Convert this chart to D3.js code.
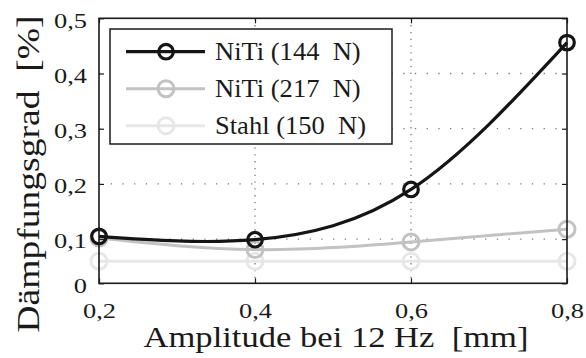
<!DOCTYPE html>
<html>
<head>
<meta charset="utf-8">
<script src="https://cdn.jsdelivr.net/npm/d3@7"></script>
<style>
  html, body { margin: 0; padding: 0; background: #fff; }
  svg { display: block; }
</style>
</head>
<body>
<svg id="chart" width="586" height="358"></svg>
<script>
// Damping ratio vs. excitation amplitude at 12 Hz
const amplitudes = [0.2, 0.4, 0.6, 0.8];
const niti144 = [0.105, 0.099, 0.190, 0.456];
const niti217 = [0.102, 0.081, 0.095, 0.118];
const stahl150 = [0.060, 0.060, 0.060, 0.060];

const seriesNames = ["NiTi (144  N)", "NiTi (217  N)", "Stahl (150  N)"];
const seriesColors = ["#151515", "#c2c2c2", "#e7e7e7"];

const xTicks = [0.2, 0.4, 0.6, 0.8];
const xTickLabels = ["0,2", "0,4", "0,6", "0,8"];
const yTicks = [0.02, 0.1, 0.2, 0.3, 0.4, 0.5];
const yTickLabels = ["0", "0,1", "0,2", "0,3", "0,4", "0,5"];
const xGrid = [0.4, 0.6];
const yGrid = [0.1, 0.2, 0.3, 0.4];

const xTitle = "Amplitude bei 12 Hz  [mm]";
const yTitle = "Dämpfungsgrad  [%]";

const series = [
  { name: seriesNames[0], values: niti144, color: seriesColors[0], r: 7.3, w: 3.2 },
  { name: seriesNames[1], values: niti217, color: seriesColors[1], r: 8, w: 3 },
  { name: seriesNames[2], values: stahl150, color: seriesColors[2], r: 8, w: 3 }
];

const FONT = "'Liberation Serif', 'Times New Roman', serif";
const INK = "#1a1a1a";

const svg = d3.select("#chart");
const pLeft = 99, pRight = 567, pTop = 18.3, pBottom = 283.3;

const x = d3.scaleLinear().domain([0.2, 0.8]).range([pLeft, pRight]);
const y = d3.scaleLinear().domain([0.02, 0.5]).range([pBottom, pTop]);

function font(sel, size) {
  sel.style("font-family", FONT).style("font-size", size + "px")
    .style("white-space", "pre").style("fill", INK);
}
// widen glyphs horizontally
function stretch(sel, k) {
  sel.each(function () {
    const L = this.getComputedTextLength();
    this.setAttribute("textLength", L * k);
    this.setAttribute("lengthAdjust", "spacingAndGlyphs");
  });
}

// dotted grid
const grid = svg.append("g");
grid.selectAll("line.h").data(yGrid).join("line")
  .attr("x1", pLeft).attr("x2", pRight)
  .attr("y1", d => y(d)).attr("y2", d => y(d))
  .attr("stroke", "#7a7a7a").attr("stroke-width", 1.3)
  .attr("stroke-dasharray", "1.3,10.4");
grid.selectAll("line.v").data(xGrid).join("line")
  .attr("x1", d => x(d)).attr("x2", d => x(d))
  .attr("y1", pTop).attr("y2", pBottom)
  .attr("stroke", "#7a7a7a").attr("stroke-width", 1.3)
  .attr("stroke-dasharray", "1.3,5.5");

// series curves and markers (bottom-most first)
const line = d3.line()
  .x((d, i) => x(amplitudes[i]))
  .y(d => y(d))
  .curve(d3.curveNatural);

const plots = svg.append("g");
series.slice().reverse().forEach(s => {
  const g = plots.append("g");
  g.append("path").attr("d", line(s.values))
    .attr("fill", "none").attr("stroke", s.color).attr("stroke-width", s.w);
  g.selectAll("circle").data(s.values).join("circle")
    .attr("cx", (d, i) => x(amplitudes[i])).attr("cy", d => y(d))
    .attr("r", s.r).attr("fill", "none")
    .attr("stroke", s.color).attr("stroke-width", s.w);
});

// axes with inward ticks
const axLeft = svg.append("g").attr("transform", `translate(${pLeft},0)`)
  .call(d3.axisLeft(y).tickValues(yTicks).tickFormat((d, i) => yTickLabels[i])
    .tickSize(-5).tickSizeOuter(0).tickPadding(12));
const axRight = svg.append("g").attr("transform", `translate(${pRight},0)`)
  .call(d3.axisRight(y).tickValues(yTicks).tickFormat("").tickSize(-5).tickSizeOuter(0));
const axBottom = svg.append("g").attr("transform", `translate(0,${pBottom})`)
  .call(d3.axisBottom(x).tickValues(xTicks).tickFormat((d, i) => xTickLabels[i])
    .tickSize(-5).tickSizeOuter(0));
const axTop = svg.append("g").attr("transform", `translate(0,${pTop})`)
  .call(d3.axisTop(x).tickValues(xTicks).tickFormat("").tickSize(-5).tickSizeOuter(0));

[axLeft, axRight, axBottom, axTop].forEach(a => {
  a.select(".domain").remove();
  a.selectAll(".tick line").attr("stroke", INK).attr("stroke-width", 1.2);
});
axLeft.selectAll(".tick text").call(font, 22).attr("dy", "0.4em");
axBottom.selectAll(".tick text").call(font, 22).attr("dy", null).attr("y", 34.8);
stretch(axLeft.selectAll(".tick text"), 1.2);
stretch(axBottom.selectAll(".tick text"), 1.2);

// frame
svg.append("rect")
  .attr("x", pLeft).attr("y", pTop)
  .attr("width", pRight - pLeft).attr("height", pBottom - pTop)
  .attr("fill", "none").attr("stroke", INK).attr("stroke-width", 1.6);

// axis titles
svg.append("text")
  .attr("x", (143.5 + 528.5) / 2).attr("y", 347)
  .attr("text-anchor", "middle")
  .call(font, 29)
  .attr("textLength", 385).attr("lengthAdjust", "spacingAndGlyphs")
  .text(xTitle);
svg.append("text")
  .attr("transform", "translate(39,174) rotate(-90)")
  .attr("text-anchor", "middle")
  .call(font, 32)
  .attr("textLength", 317).attr("lengthAdjust", "spacingAndGlyphs")
  .text(yTitle);

// legend
const legend = svg.append("g");
legend.append("rect")
  .attr("x", 110).attr("y", 29).attr("width", 282).attr("height", 115)
  .attr("fill", "#fff").attr("stroke", INK).attr("stroke-width", 1.5);
const rows = legend.selectAll("g.row").data(series).join("g")
  .attr("transform", (d, i) => `translate(0,${51.7 + i * 37})`);
rows.append("line")
  .attr("x1", 126).attr("x2", 205).attr("y1", 0).attr("y2", 0)
  .attr("stroke", d => d.color).attr("stroke-width", d => d.w);
rows.append("circle")
  .attr("cx", 166).attr("cy", 0).attr("r", d => d.r)
  .attr("fill", "none").attr("stroke", d => d.color).attr("stroke-width", d => d.w);
const legendText = rows.append("text")
  .attr("x", 215).attr("y", 8.3)
  .call(font, 26)
  .text(d => d.name);
stretch(legendText, 1.02);
</script>
</body>
</html>
